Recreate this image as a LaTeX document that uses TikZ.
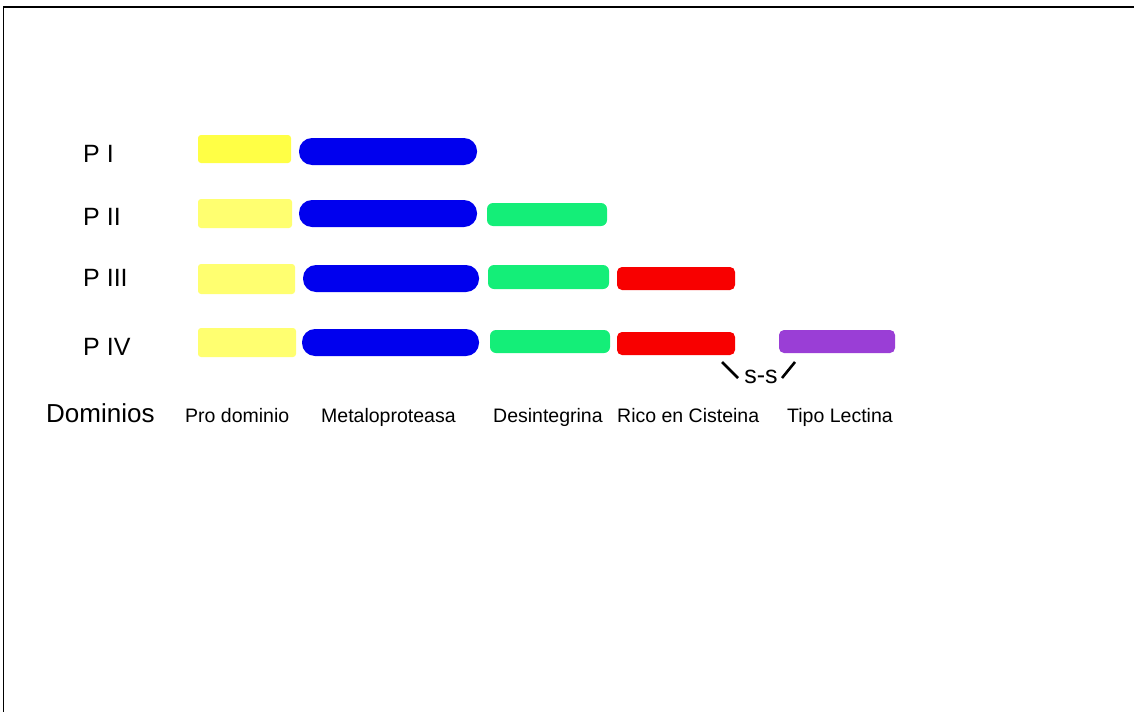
\documentclass[tikz,border=0pt]{standalone}
\usepackage{fontspec}
\setmainfont{Liberation Sans}
\definecolor{ycolA}{HTML}{FFFF45}
\definecolor{ycolB}{HTML}{FFFF70}
\definecolor{bcol}{HTML}{0000EE}
\definecolor{gcol}{HTML}{14EE78}
\definecolor{rcol}{HTML}{F80000}
\definecolor{pcol}{HTML}{9A3ED6}
\tikzset{
  bar/.style={draw=none, inner sep=0pt, outer sep=0pt},
  ybar/.style={bar, fill=ycolB, rounded corners=3pt},
  bbar/.style={bar, fill=bcol, rounded corners=13pt},
  gbar/.style={bar, fill=gcol, rounded corners=6pt},
  rbar/.style={bar, fill=rcol, rounded corners=5pt},
  pbar/.style={bar, fill=pcol, rounded corners=5pt},
  rowlab/.style={anchor=base west, inner sep=0pt, font=\fontsize{25}{28}\selectfont},
  domlab/.style={anchor=base west, inner sep=0pt, font=\fontsize{19.5}{22}\selectfont},
  bond/.style={line width=2.6pt}
}
\begin{document}
\begin{tikzpicture}[x=1pt,y=-1pt]
\useasboundingbox (0,0) rectangle (1134,712);
\draw[line width=2pt] (3,7) -- (1134,7);
\draw[line width=1pt] (3,7) -- (3,712);

% row labels
\node[rowlab] (l1) at (83,162) {P I};
\node[rowlab] (l2) at (83,225) {P II};
\node[rowlab] (l3) at (83,286) {P III};
\node[rowlab] (l4) at (83,355) {P IV};

% row 1
\node[ybar, fill=ycolA, minimum width=93pt, minimum height=28pt] (y1) at (244.5,149) {};
\node[bbar, minimum width=178pt, minimum height=27pt] (b1) at (388,151.5) {};
% row 2
\node[ybar, minimum width=94pt, minimum height=29pt] (y2) at (245,213.5) {};
\node[bbar, minimum width=178pt, minimum height=27pt] (b2) at (388,213.5) {};
\node[gbar, minimum width=120pt, minimum height=23pt] (g2) at (547,214.5) {};
% row 3
\node[ybar, minimum width=97pt, minimum height=30pt] (y3) at (246.5,279) {};
\node[bbar, minimum width=176pt, minimum height=27pt] (b3) at (391,278.5) {};
\node[gbar, minimum width=121pt, minimum height=24pt] (g3) at (548.5,277) {};
\node[rbar, minimum width=118pt, minimum height=23pt] (r3) at (676,278.5) {};
% row 4
\node[ybar, minimum width=98pt, minimum height=29pt] (y4) at (247,342.5) {};
\node[bbar, minimum width=177pt, minimum height=27pt] (b4) at (390.5,342.5) {};
\node[gbar, minimum width=120pt, minimum height=23pt] (g4) at (550,341.5) {};
\node[rbar, minimum width=118pt, minimum height=23pt] (r4) at (676,343.5) {};
\node[pbar, minimum width=116pt, minimum height=23pt] (p4) at (837,341.5) {};

% disulfide bond
\node[anchor=base, inner sep=0pt, font=\fontsize{25}{28}\selectfont] (ss) at (761,383) {s-s};
\coordinate (c1a) at (722,362);
\coordinate (c1b) at (738,378);
\coordinate (c2a) at (782,378);
\coordinate (c2b) at (795,362);
\draw[bond] (c1a) -- (c1b);
\draw[bond] (c2a) -- (c2b);

% domain labels
\node[anchor=base west, inner sep=0pt, font=\fontsize{26}{30}\selectfont] (dom) at (46,422) {Dominios};
\node[domlab] (d1) at (185,422) {Pro dominio};
\node[domlab] (d2) at (321,422) {Metaloproteasa};
\node[domlab] (d3) at (493,422) {Desintegrina};
\node[domlab] (d4) at (617,422) {Rico en Cisteina};
\node[domlab] (d5) at (787,422) {Tipo Lectina};
\end{tikzpicture}
\end{document}
